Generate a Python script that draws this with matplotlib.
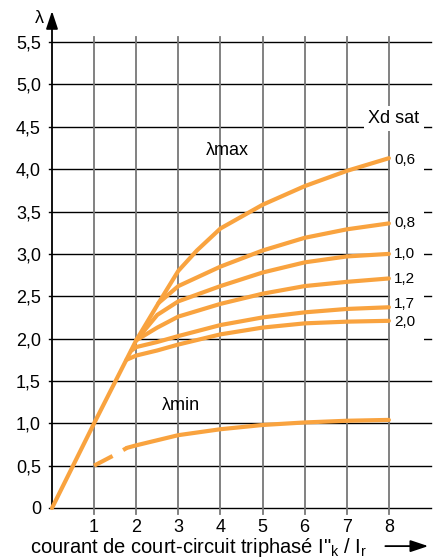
import numpy as np
import matplotlib.pyplot as plt
from matplotlib.patches import Rectangle

plt.rcParams['font.family'] = ['Liberation Sans', 'DejaVu Sans']
plt.rcParams['mathtext.default'] = 'regular'

orange = '#F9A33F'

# common rising part
base_x = [0, 1, 1.5, 2]
base_y = [0, 1, 1.49, 1.98]

# lambda max curves, one per Xd sat value
x06 = [2.53, 3, 3.44, 4, 5, 6, 7, 8]
y06 = [2.42, 2.80, 3.04, 3.30, 3.58, 3.80, 3.98, 4.13]
x08 = [2.53, 3, 4, 5, 6, 7, 8]
y08 = [2.42, 2.62, 2.85, 3.04, 3.19, 3.29, 3.36]
x10 = [2, 2.5, 3, 4, 5, 6, 7, 8]
y10 = [1.98, 2.28, 2.44, 2.62, 2.78, 2.90, 2.97, 3.00]
x12 = [2, 2.5, 3, 4, 5, 6, 7, 8]
y12 = [1.98, 2.13, 2.26, 2.41, 2.53, 2.62, 2.67, 2.71]
x17 = [1.89, 2, 2.5, 3, 4, 5, 6, 7, 8]
y17 = [1.86, 1.90, 1.96, 2.03, 2.16, 2.25, 2.31, 2.35, 2.37]
x20 = [1.77, 2, 2.5, 3, 4, 5, 6, 7, 8]
y20 = [1.75, 1.80, 1.86, 1.93, 2.05, 2.13, 2.18, 2.20, 2.21]

# lambda min
xmin_dash = [1, 1.5, 1.78]
ymin_dash = [0.5, 0.63, 0.71]
xmin = [1.78, 2, 3, 4, 5, 6, 7, 8]
ymin = [0.71, 0.74, 0.86, 0.93, 0.98, 1.01, 1.03, 1.04]

xd_labels = ['0,6', '0,8', '1,0', '1,2', '1,7', '2,0']
xd_label_y = [4.11, 3.37, 3.00, 2.70, 2.41, 2.20]

yticks = np.arange(0, 5.6, 0.5)
ytick_labels = ['0'] + [f'{v:.1f}'.replace('.', ',') for v in yticks[1:]]
xticks = [1, 2, 3, 4, 5, 6, 7, 8]

fig = plt.figure(figsize=(4.33, 5.6), dpi=100)
ax = fig.add_axes([52/433, 1-508/560, 379/433, 5.9*84.7/560])
ax.set_xlim(0, 9)
ax.set_ylim(0, 5.9)
for s in ax.spines.values():
    s.set_visible(False)

# grid
for y in yticks:
    ax.plot([-0.06, 9], [y, y], color='black', lw=1, clip_on=False, zorder=1)
for x in xticks:
    ax.plot([x, x], [-0.07, 5.56], color='#777777', lw=1.3, clip_on=False, zorder=2)
ax.add_patch(Rectangle((8.03, 1.9), 0.81, 2.6, facecolor='white',
                       edgecolor='none', zorder=1.5))

# y axis with arrow
ax.annotate('', xy=(0, 5.9), xytext=(0, -0.02), annotation_clip=False,
            arrowprops=dict(arrowstyle='-|>,head_length=0.9,head_width=0.3',
                            color='black', lw=1.3, mutation_scale=12))
ax.text(-0.3, 5.78, 'λ', fontsize=13, ha='center', va='center')

ax.set_yticks(yticks)
ax.set_yticklabels(ytick_labels, fontsize=13)
ax.set_xticks(xticks)
ax.set_xticklabels([str(x) for x in xticks], fontsize=13)
ax.tick_params(length=0)
ax.tick_params(axis='y', pad=8)
ax.tick_params(axis='x', pad=8)

# curves
kw = dict(color=orange, lw=3, solid_joinstyle='round', solid_capstyle='round',
          zorder=3, clip_on=False)
ax.plot(base_x + x06, base_y + y06, **kw)
ax.plot(x08, y08, **kw)
ax.plot(x10, y10, **kw)
ax.plot(x12, y12, **kw)
ax.plot(x17, y17, **kw)
ax.plot(x20, y20, **kw)
ax.plot(xmin, ymin, **kw)
ax.plot(xmin_dash, ymin_dash, color=orange, lw=3, dashes=(5, 2.9),
        dash_capstyle='butt', zorder=3)

# labels
ax.text(4.16, 4.22, 'λmax', fontsize=13, ha='center', va='center', zorder=4)
ax.text(3.06, 1.21, 'λmin', fontsize=13, ha='center', va='center', zorder=4)
ax.text(8.12, 4.6, 'Xd sat', fontsize=13, ha='center', va='center', zorder=4,
        bbox=dict(facecolor='white', edgecolor='none', pad=3))
for lab, y in zip(xd_labels, xd_label_y):
    ax.text(8.12, y, lab, fontsize=11, ha='left', va='center', zorder=4)

ax.text(-0.52, -0.47, 'courant de court-circuit triphasé I"$_k$ / I$_r$',
        fontsize=14.5, ha='left', va='center')
ax.annotate('', xy=(9.0, -0.45), xytext=(7.85, -0.45), annotation_clip=False,
            arrowprops=dict(arrowstyle='-|>,head_length=0.9,head_width=0.3',
                            color='black', lw=1.3, mutation_scale=12))

fig.savefig('out.png', dpi=100)
